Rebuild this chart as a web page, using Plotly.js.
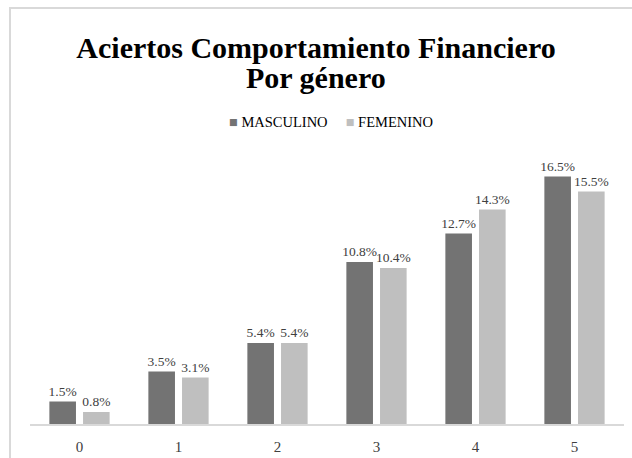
<!DOCTYPE html>
<html>
<head>
<meta charset="utf-8">
<script src="https://cdn.plot.ly/plotly-3.0.1.min.js"></script>
<style>
html,body{margin:0;padding:0;background:#fff;}
#wrap{position:relative;width:632px;height:458px;}
#chart{width:632px;height:458px;}
#frame{position:absolute;left:9px;top:7px;width:640px;height:470px;border-left:2px solid #d9d9d9;border-top:2px solid #d9d9d9;pointer-events:none;}
</style>
</head>
<body>
<div id="wrap"><div id="chart"></div><div id="frame"></div></div>
<script>
const categories = ["0", "1", "2", "3", "4", "5"];
const masculino = [1.5, 3.5, 5.4, 10.8, 12.7, 16.5];
const femenino = [0.8, 3.1, 5.4, 10.4, 14.3, 15.5];
const seriesNames = ["MASCULINO", "FEMENINO"];
const seriesColors = ["#737373", "#bfbfbf"];
const titleLine1 = "Aciertos Comportamiento Financiero";
const titleLine2 = "Por género";

const serif = "Liberation Serif, DejaVu Serif, serif";
function lbl(v){ return v.toFixed(1) + "%"; }

const traces = [masculino, femenino].map((vals, i) => ({
  type:"bar", name:seriesNames[i], x:categories, y:vals,
  marker:{color:seriesColors[i]}, text:vals.map(lbl), textposition:"outside",
  constraintext:"none",
  textfont:{family:serif, size:13.5, color:"#404040"}, cliponaxis:false, hoverinfo:"none"
}));

const legendText = seriesNames.map((n, i) =>
  "<span style='color:" + seriesColors[i] + "'>■</span>&nbsp;" + n).join("&nbsp;&nbsp;&nbsp;&nbsp;&nbsp;");

const titleFont = {family:serif, size:30, color:"#000", weight:"bold"};

const layout = {
  width:632, height:458,
  margin:{l:30, r:8, t:154, b:34},
  paper_bgcolor:"#fff", plot_bgcolor:"#fff",
  barmode:"group", bargap:0.32, bargroupgap:0.21,
  title:{text:titleLine1, font:titleFont,
         x:0.5, xanchor:"center", y:1 - 47/458, yanchor:"middle", yref:"container"},
  showlegend:false,
  annotations:[
    {text:titleLine2, xref:"paper", yref:"paper", x:(316-30)/594, y:(424-77)/270,
     xanchor:"center", yanchor:"middle", showarrow:false, font:titleFont},
    {text:legendText, xref:"paper", yref:"paper", x:(331-30)/594, y:(424-122)/270,
     xanchor:"center", yanchor:"middle", showarrow:false,
     font:{family:serif, size:14.5, color:"#000"}}],
  xaxis:{type:"category", showgrid:false, zeroline:false, showline:true,
         linecolor:"#d9d9d9", linewidth:2, ticks:"", ticklabelstandoff:8,
         tickfont:{family:serif, size:15, color:"#404040"}},
  yaxis:{range:[0, 18], visible:false, showgrid:false, zeroline:false},
  font:{family:serif}
};

Plotly.newPlot("chart", traces, layout, {displayModeBar:false, staticPlot:true});
</script>
</body>
</html>
